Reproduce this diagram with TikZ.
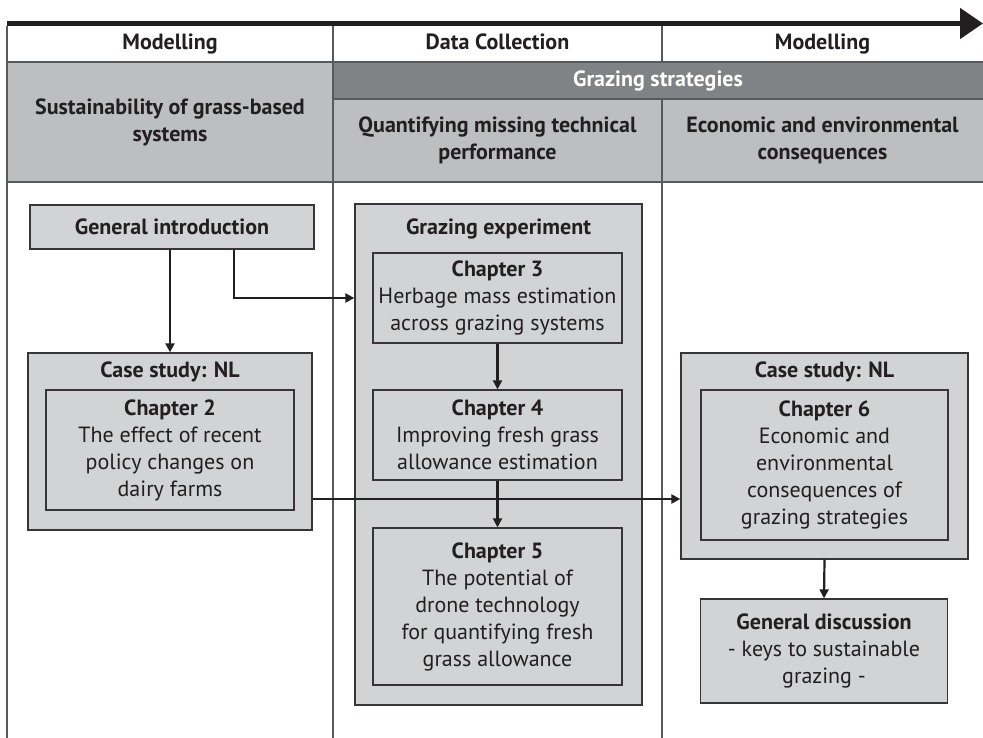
\documentclass[tikz,border=0pt]{standalone}
\usepackage{fontspec}
\setmainfont{PT Sans}
\usetikzlibrary{arrows.meta}

\definecolor{ink}{HTML}{231F20}
\definecolor{rule}{HTML}{58595B}
\definecolor{boxgray}{HTML}{D1D3D4}
\definecolor{headgray}{HTML}{BCBEC0}
\definecolor{bandgray}{HTML}{808285}

\begin{document}
\begin{tikzpicture}[x=1pt,y=-1pt,
    every node/.style={font=\fontsize{22}{27}\selectfont, text=ink, align=center, inner sep=0pt},
    cell/.style={fill=#1, minimum height=36pt},
    phase/.style={cell=white, text height=16pt, text depth=5pt},
    box/.style={draw=ink!90, fill=boxgray, line width=1.3pt},
    flow/.style={draw=ink, line width=2.2pt, -{Triangle[length=9pt,width=9pt]}}
]
    \useasboundingbox (0,0) rectangle (983,738);

    % table cells
    \node[phase, minimum width=326pt] (hdA) at (170,44) {\bfseries Modelling};
    \node[phase, minimum width=329pt] (hdB) at (497.5,44) {\bfseries Data Collection};
    \node[phase, minimum width=321pt] (hdC) at (822.5,44) {\bfseries Modelling};
    \node[cell=headgray, minimum width=326pt, minimum height=120pt] (topicA) at (170,122)
        {\bfseries Sustainability of grass-based\\\bfseries systems};
    \node[cell=bandgray, minimum width=650pt, minimum height=37pt, text=white] (band) at (658,80.5)
        {\bfseries Grazing strategies};
    \node[cell=headgray, minimum width=329pt, minimum height=83pt] (topicB) at (497.5,140.5)
        {\bfseries Quantifying missing technical\\\bfseries performance};
    \node[cell=headgray, minimum width=321pt, minimum height=83pt] (topicC) at (822.5,140.5)
        {\bfseries Economic and environmental\\\bfseries consequences};

    % table rules
    \draw[rule, line width=1.3pt] (7,26) -- (7,738);
    \draw[rule, line width=1.3pt] (333,26) -- (333,738);
    \draw[rule, line width=1.3pt] (662,26) -- (662,62);
    \draw[rule, line width=1.3pt] (662,99) -- (662,738);
    \draw[rule, line width=1.3pt] (7,62) -- (983,62);
    \draw[rule, line width=1.3pt] (333,99) -- (983,99);
    \draw[rule, line width=1.3pt] (7,182) -- (983,182);

    % time line, drawn over the header row
    \coordinate (tStart) at (7,23.5);
    \coordinate (tEnd) at (983,23.5);
    \draw[ink, line width=5pt, -{Triangle[length=23pt,width=30pt]}] (tStart) -- (tEnd);

    % first column
    \node[box, minimum width=284pt, minimum height=44pt] (intro) at (172,227) {\bfseries General introduction};
    \node[box, minimum width=284pt, minimum height=177pt] (caseA) at (170,441.5) {};
    \node (caseAt) at (170,372) {\bfseries Case study: NL};
    \node[box, minimum width=248pt, minimum height=120pt] (ch2) at (170,450)
        {\bfseries Chapter 2\\The effect of recent\\policy changes on\\dairy farms};

    % second column
    \node[box, minimum width=287pt, minimum height=501pt] (expt) at (498.5,454.5) {};
    \node (exptT) at (498.5,229) {\bfseries Grazing experiment};
    \node[box, minimum width=249pt, minimum height=90pt] (ch3) at (497.5,298)
        {\bfseries Chapter 3\\Herbage mass estimation\\across grazing systems};
    \node[box, minimum width=249pt, minimum height=90pt] (ch4) at (497.5,435)
        {\bfseries Chapter 4\\Improving fresh grass\\allowance estimation};
    \node[box, minimum width=249pt, minimum height=157pt] (ch5) at (497.5,606.5)
        {\bfseries Chapter 5\\The potential of\\drone technology\\for quantifying fresh\\grass allowance};

    % third column
    \node[box, minimum width=287pt, minimum height=206pt] (caseB) at (824.5,456) {};
    \node (caseBt) at (824.5,372) {\bfseries Case study: NL};
    \node[box, minimum width=247pt, minimum height=150pt] (ch6) at (824.5,465)
        {\bfseries Chapter 6\\Economic and\\environmental\\consequences of\\grazing strategies};
    \node[box, minimum width=247pt, minimum height=104pt] (disc) at (824,651)
        {\bfseries General discussion\\- keys to sustainable\\grazing -};

    % links
    \coordinate (busY) at (0,499);
    \draw[flow] (caseA.north |- intro.south) -- (caseA.north);
    \draw[flow] ([xshift=62pt]intro.south) |- (expt.west |- ch3);
    \draw[flow] (ch3.south) -- (ch4.north);
    \draw[flow] (ch4.south) -- (ch5.north);
    \draw[flow] (caseA.east |- busY) -- (caseB.west |- busY);
    \draw[flow] (caseB.south) -- (disc.north);

\end{tikzpicture}
\end{document}
